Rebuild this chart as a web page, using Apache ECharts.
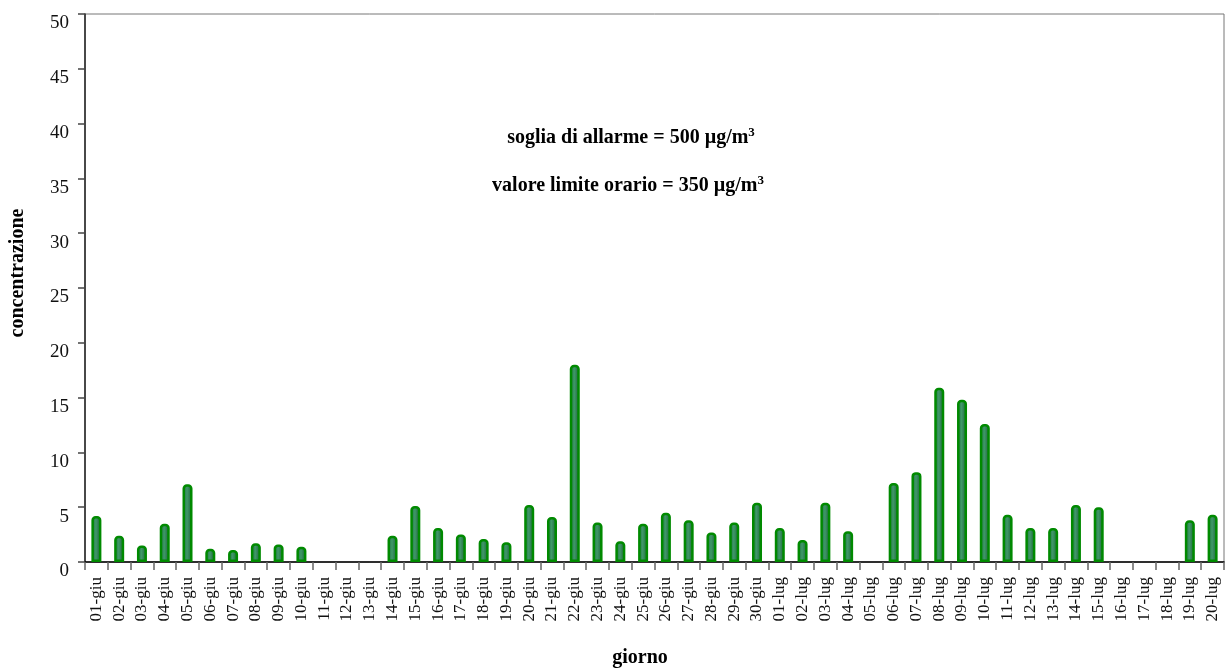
<!DOCTYPE html>
<html>
<head>
<meta charset="utf-8">
<script src="https://cdn.jsdelivr.net/npm/echarts@6/dist/echarts.min.js"></script>
<style>
html,body{margin:0;padding:0;background:#fff;}
#chart{width:1226px;height:669px;}
</style>
</head>
<body>
<div id="chart"></div>
<script>
const categories = [
  '01-giu','02-giu','03-giu','04-giu','05-giu','06-giu','07-giu','08-giu','09-giu','10-giu',
  '11-giu','12-giu','13-giu','14-giu','15-giu','16-giu','17-giu','18-giu','19-giu','20-giu',
  '21-giu','22-giu','23-giu','24-giu','25-giu','26-giu','27-giu','28-giu','29-giu','30-giu',
  '01-lug','02-lug','03-lug','04-lug','05-lug','06-lug','07-lug','08-lug','09-lug','10-lug',
  '11-lug','12-lug','13-lug','14-lug','15-lug','16-lug','17-lug','18-lug','19-lug','20-lug'
];
const concentrazione = [
  4.2, 2.4, 1.5, 3.5, 7.1, 1.2, 1.1, 1.7, 1.6, 1.4,
  null, null, null, 2.4, 5.1, 3.1, 2.5, 2.1, 1.8, 5.2,
  4.1, 18.0, 3.6, 1.9, 3.5, 4.5, 3.8, 2.7, 3.6, 5.4,
  3.1, 2.0, 5.4, 2.8, null, 7.2, 8.2, 15.9, 14.8, 12.6,
  4.3, 3.1, 3.1, 5.2, 5.0, null, null, null, 3.8, 4.3
];
const yTicks = { min: 0, max: 50, interval: 5 };
const annotations = [
  'soglia di allarme = 500 µg/m',
  'valore limite orario = 350 µg/m'
];
const xTitle = 'giorno';
const yTitle = 'concentrazione';

const FONT = '"Liberation Serif", "Times New Roman", serif';
const chart = echarts.init(document.getElementById('chart'), null, { renderer: 'canvas' });

const richAnn = {
  a: { fontFamily: FONT, fontWeight: 'bold', fontSize: 20, color: '#000', lineHeight: 24 },
  s: { fontFamily: FONT, fontWeight: 'bold', fontSize: 13, color: '#000', verticalAlign: 'top', lineHeight: 24, padding: [0, 0, 9, 0] }
};

chart.setOption({
  animation: false,
  backgroundColor: '#ffffff',
  grid: {
    left: 85, right: 2, top: 14, bottom: 107,
    outerBoundsMode: 'none',
    containLabel: false,
    show: true, borderColor: '#777', borderWidth: 1, backgroundColor: 'transparent'
  },
  xAxis: {
    type: 'category',
    data: categories,
    axisLine: { show: true, lineStyle: { color: '#000', width: 1.5 } },
    axisTick: { show: true, length: 8, alignWithLabel: false, lineStyle: { color: '#666', width: 1.5 } },
    axisLabel: {
      rotate: 90, interval: 0, margin: 15,
      fontFamily: FONT, fontSize: 17, color: '#111'
    },
    splitLine: { show: false }
  },
  yAxis: {
    type: 'value',
    min: yTicks.min, max: yTicks.max, interval: yTicks.interval,
    axisLine: { show: true, lineStyle: { color: '#222', width: 1.5 } },
    axisTick: { show: true, inside: false, length: 7, lineStyle: { color: '#444', width: 1.5 } },
    axisLabel: {
      margin: 16, fontFamily: FONT, fontSize: 19, color: '#111',
      verticalAlign: 'top'
    },
    splitLine: { show: false }
  },
  series: [{
    type: 'bar',
    data: concentrazione,
    barWidth: 10,
    itemStyle: {
      color: new echarts.graphic.LinearGradient(0, 0, 1, 0, [
        { offset: 0, color: '#1e6a3c' },
        { offset: 0.45, color: '#3f9868' },
        { offset: 1, color: '#1c5a36' }
      ]),
      borderColor: '#008a00',
      borderWidth: 2.5,
      borderRadius: [3, 3, 0, 0]
    }
  }],
  graphic: [
    {
      type: 'text', x: 631, y: 138,
      style: { text: '{a|' + annotations[0] + '}{s|3}', rich: richAnn, align: 'center', verticalAlign: 'middle' }
    },
    {
      type: 'text', x: 628, y: 186,
      style: { text: '{a|' + annotations[1] + '}{s|3}', rich: richAnn, align: 'center', verticalAlign: 'middle' }
    },
    {
      type: 'text', x: 640, y: 658,
      style: { text: xTitle, fontFamily: FONT, fontWeight: 'bold', fontSize: 20, fill: '#000', align: 'center', verticalAlign: 'middle' }
    },
    {
      type: 'text', x: 18, y: 273, rotation: Math.PI / 2,
      style: { text: yTitle, fontFamily: FONT, fontWeight: 'bold', fontSize: 20, fill: '#000', align: 'center', verticalAlign: 'middle' }
    }
  ]
});
</script>
</body>
</html>
